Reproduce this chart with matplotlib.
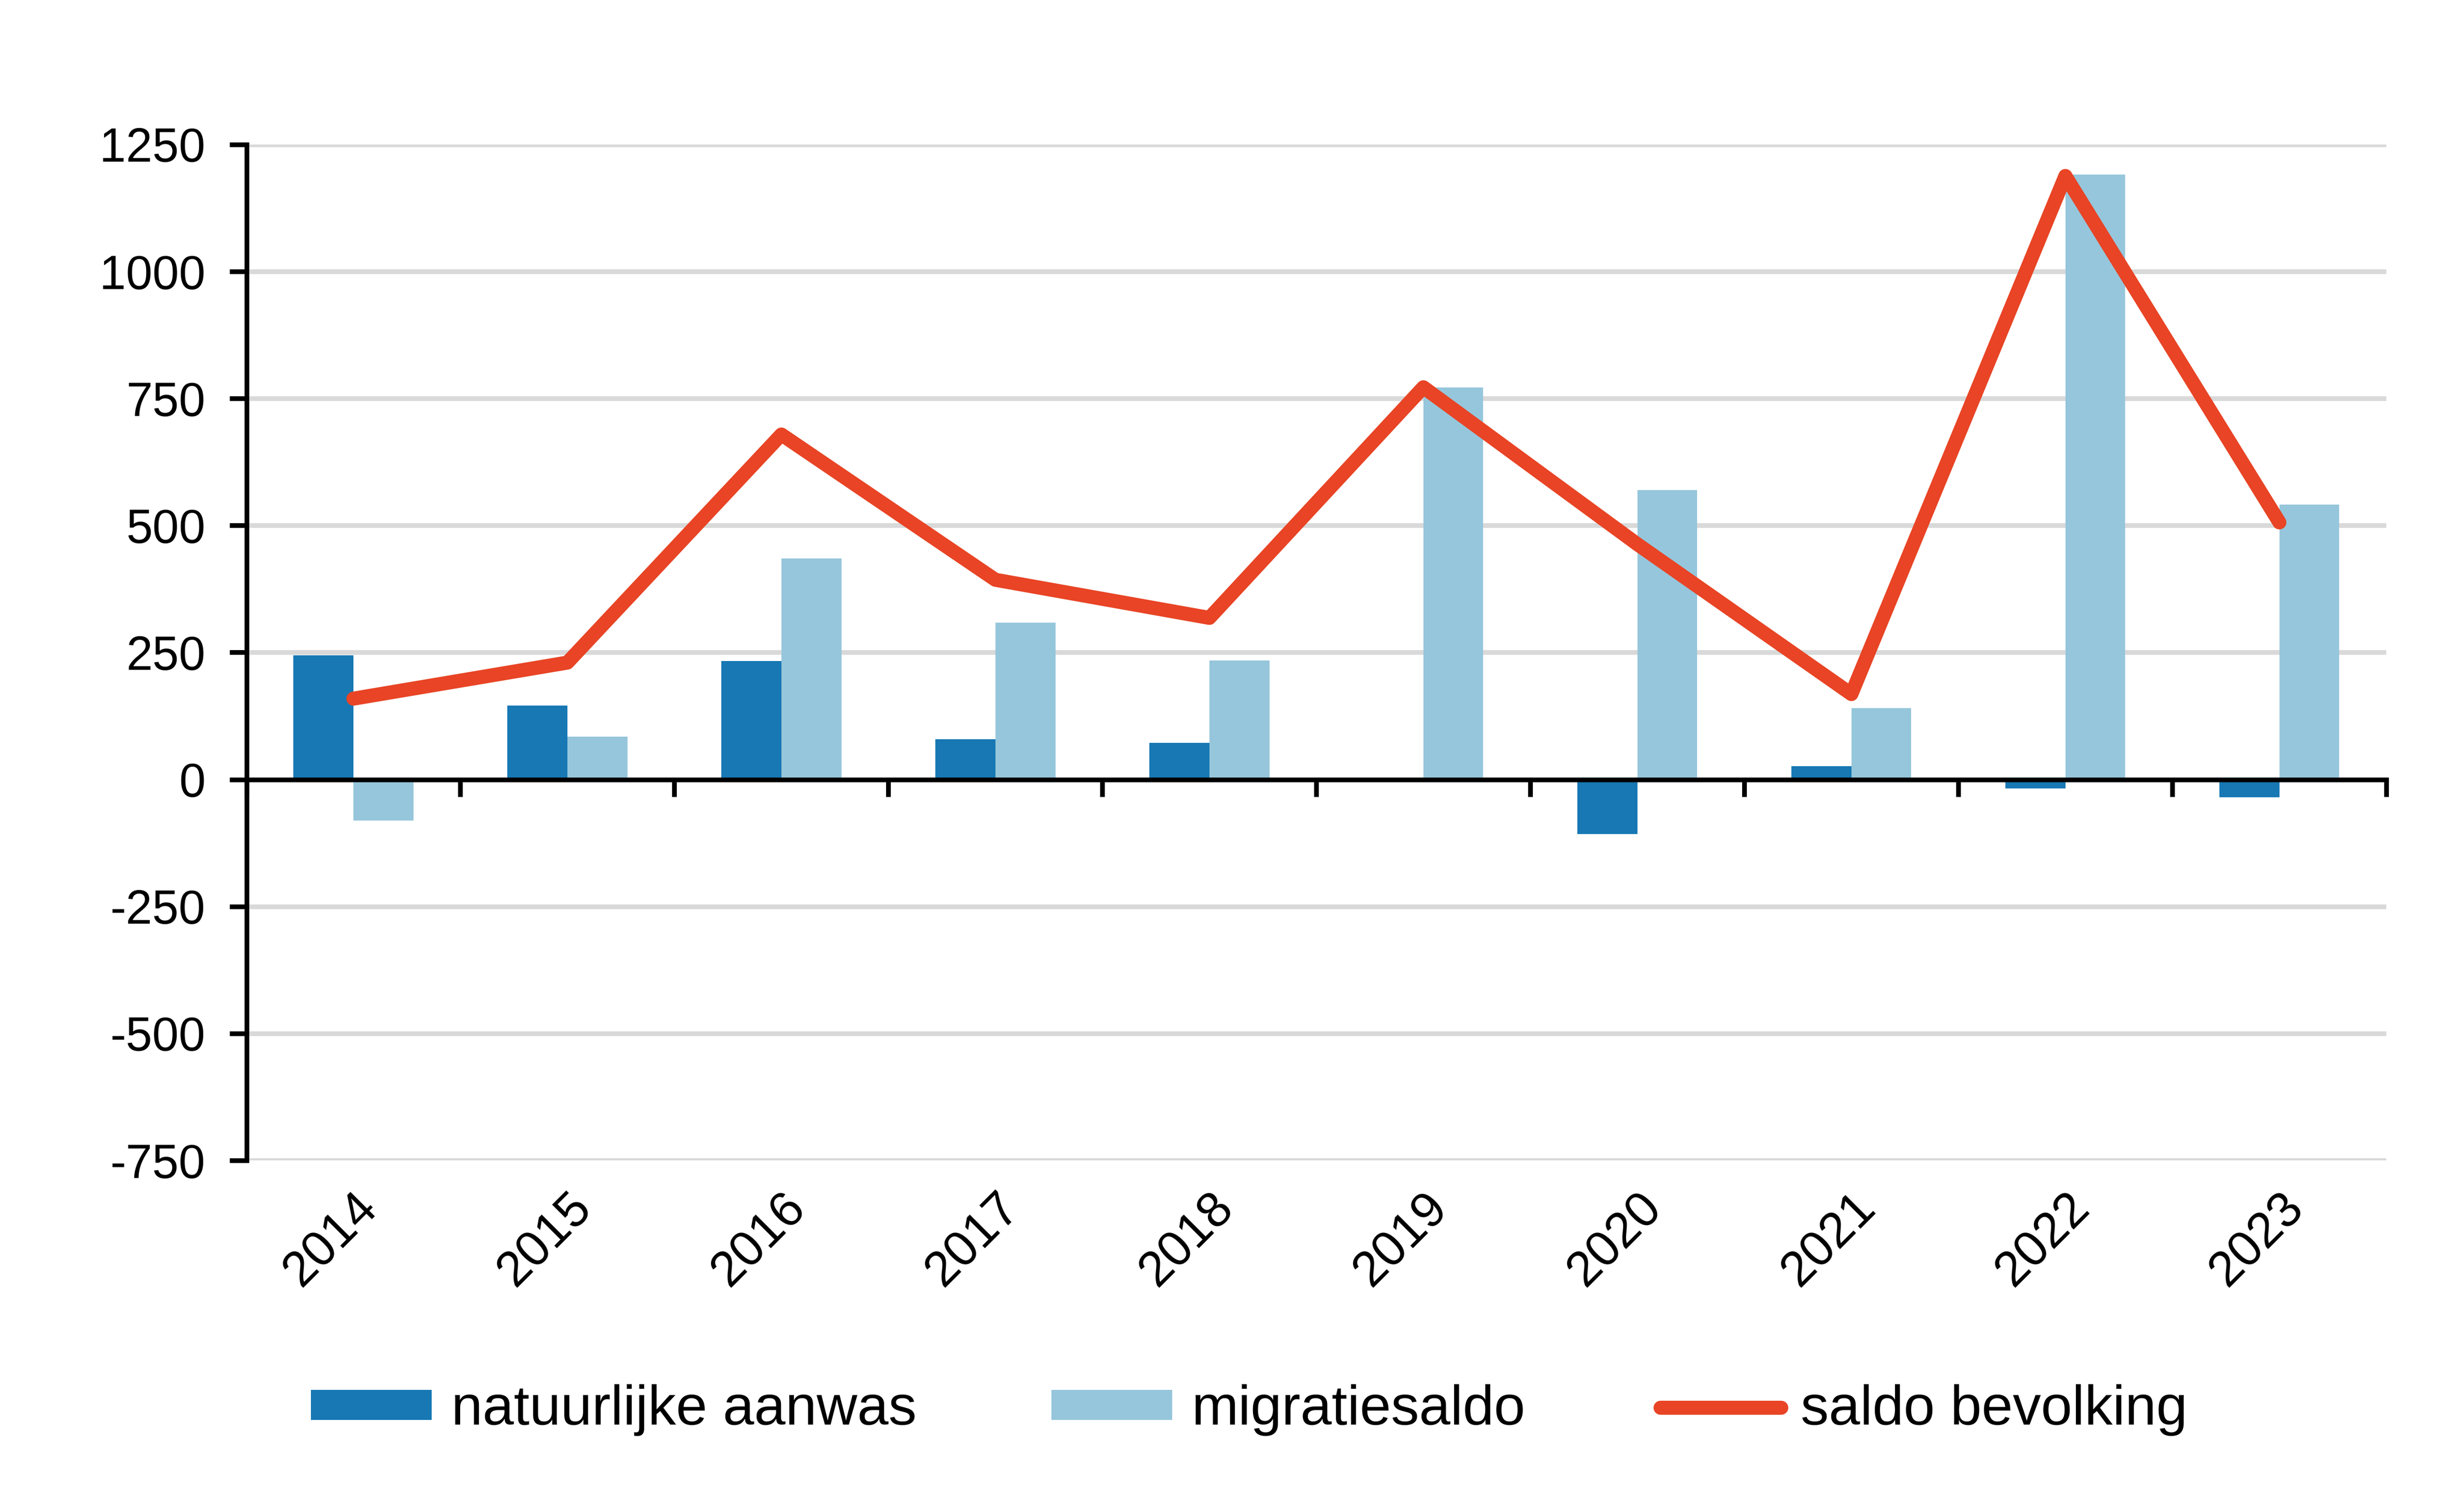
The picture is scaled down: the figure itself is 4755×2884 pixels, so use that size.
import numpy as np
import matplotlib.pyplot as plt

plt.rcParams['font.family'] = ['Liberation Sans', 'DejaVu Sans']
plt.rcParams['axes.unicode_minus'] = False

# data
years = ['2014', '2015', '2016', '2017', '2018', '2019', '2020', '2021', '2022', '2023']
natuurlijke_aanwas = [244, 145, 233, 79, 72, 0, -107, 26, -18, -35]
migratiesaldo = [-81, 84, 435, 309, 234, 772, 570, 140, 1191, 541]
saldo_bevolking = [159, 230, 679, 393, 318, 772, 463, 168, 1188, 506]

c_nat = '#1778b4'
c_mig = '#96c6db'
c_saldo = '#e84425'

fig = plt.figure(figsize=(4755 / 300, 2884 / 300), dpi=300)
ax = fig.add_axes([0.1, 0.2233, 0.8685, 0.68])

x = np.arange(len(years))
w = 0.28
b1 = ax.bar(x - w / 2, natuurlijke_aanwas, width=w, color=c_nat, label='natuurlijke aanwas', zorder=2)
b2 = ax.bar(x + w / 2, migratiesaldo, width=w, color=c_mig, label='migratiesaldo', zorder=2)
l1, = ax.plot(x, saldo_bevolking, color=c_saldo, lw=6.5, solid_capstyle='round',
              solid_joinstyle='round', label='saldo bevolking', zorder=3)

ax.set_xlim(-0.5, len(years) - 0.5)
ax.set_ylim(-750, 1250)
ax.set_yticks(np.arange(-750, 1251, 250))
ax.grid(axis='y', color='#d9d9d9', lw=2.2, zorder=0)
ax.set_axisbelow(True)

for s in ['top', 'right']:
    ax.spines[s].set_visible(False)
ax.spines['left'].set_linewidth(2.2)
ax.spines['bottom'].set_linewidth(2.2)
ax.spines['bottom'].set_position(('data', 0))
ax.spines['bottom'].set_zorder(4)

# boundary ticks on the zero line
ax.set_xticks(np.arange(len(years) + 1) - 0.5)
ax.tick_params(axis='x', length=8, width=2.2, direction='out', labelbottom=False)
ax.tick_params(axis='y', length=8, width=2.2, labelsize=22, pad=11)

# year labels at the bottom of the axes
sec = ax.secondary_xaxis(0)
sec.set_xticks(x, labels=years)
sec.tick_params(length=0, labelsize=23, pad=11)
sec.spines['bottom'].set_visible(False)
for lab in sec.get_xticklabels():
    lab.set_rotation(45)
    lab.set_ha('right')
    lab.set_rotation_mode('anchor')

ax.legend(handles=[b1, b2, l1], loc='center', bbox_to_anchor=(0.507, 0.056),
          bbox_transform=fig.transFigure, ncol=3, frameon=False, fontsize=26,
          handlelength=2.15, handleheight=0.45, handletextpad=0.35, columnspacing=2.4)

fig.savefig('out.png', dpi=300)
